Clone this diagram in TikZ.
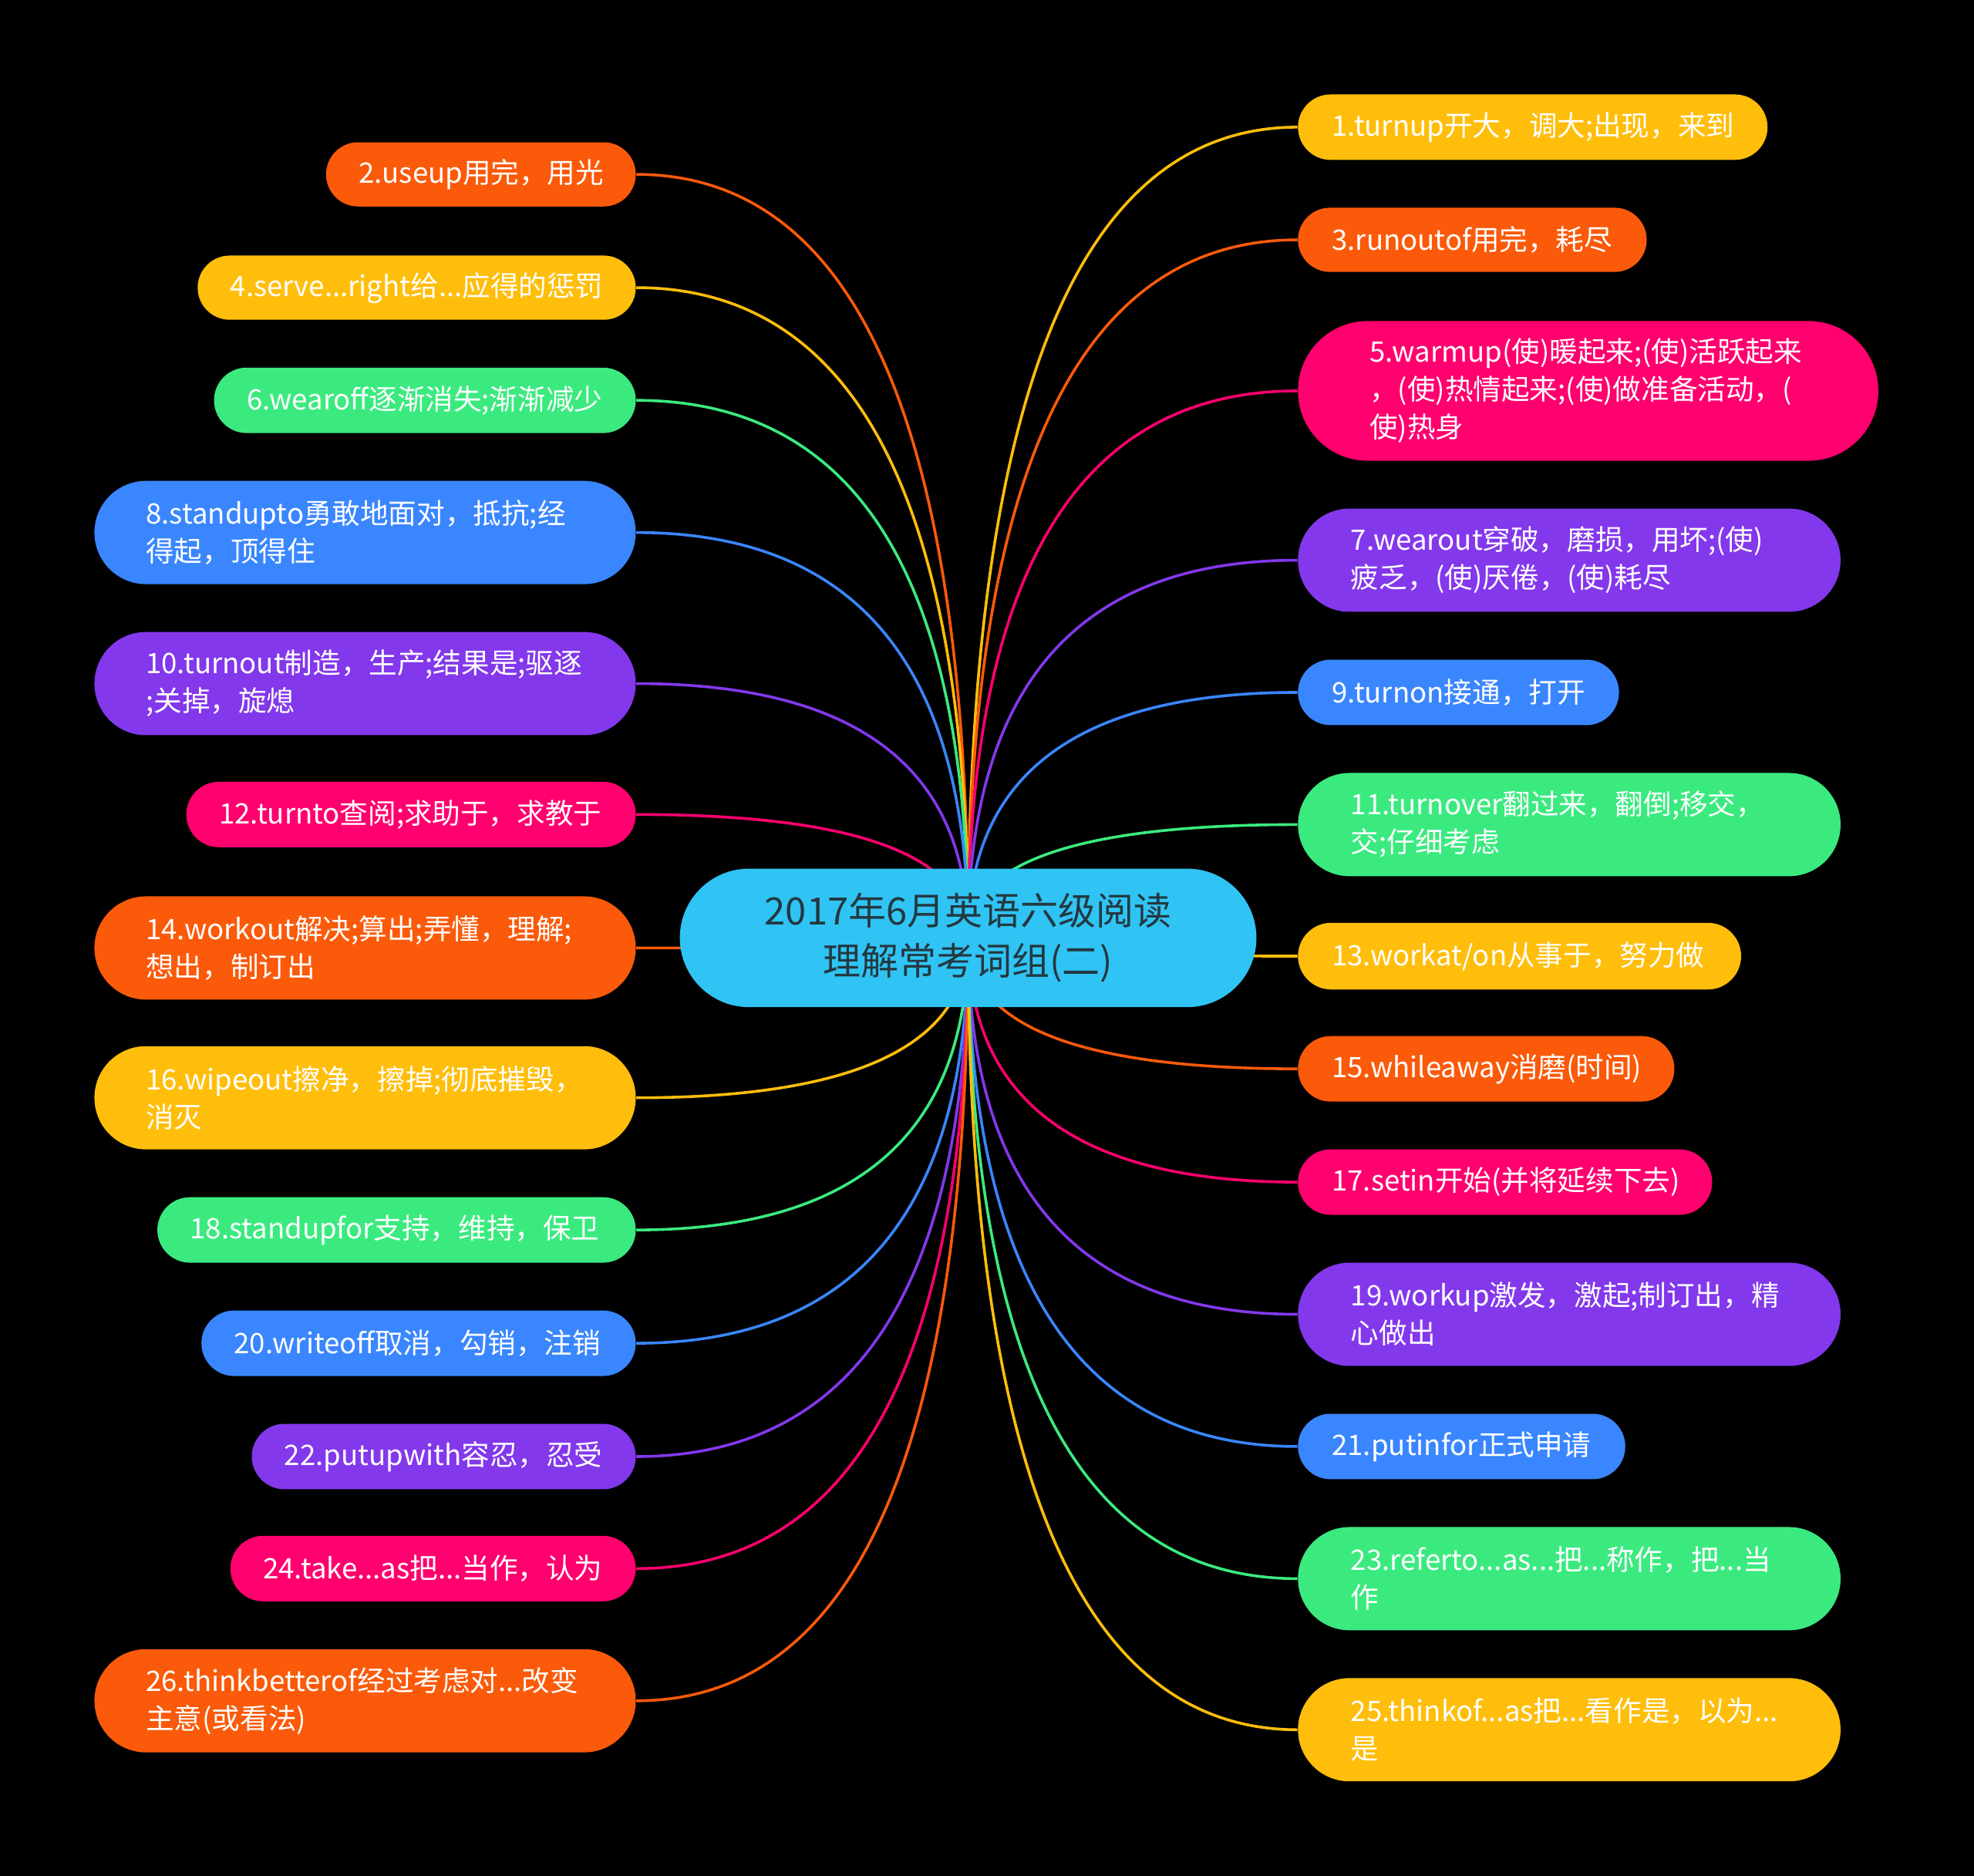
\documentclass[tikz,border=0pt]{standalone}
\usepackage{fontspec}
\setmainfont{Noto Sans CJK SC}
\usetikzlibrary{calc}
\pgfdeclarelayer{bg}
\pgfsetlayers{bg,main}
\definecolor{cOrange}{HTML}{FA5A0A}
\definecolor{cYellow}{HTML}{FFBE0B}
\definecolor{cGreen}{HTML}{3BEA7F}
\definecolor{cBlue}{HTML}{3A86FF}
\definecolor{cPurple}{HTML}{8338EC}
\definecolor{cPink}{HTML}{FF006E}
\definecolor{cCyan}{HTML}{30C4F4}
\definecolor{cDark}{HTML}{233840}
\tikzset{
  leafbox/.style={draw=none, text=white, align=left, inner ysep=0pt,
    font=\fontsize{11.2}{15}\selectfont},
  centerbox/.style={fill=cCyan, text=cDark, align=center, inner sep=0pt,
    font=\fontsize{15}{20}\selectfont},
  edge/.style={line width=1.1pt}
}
\newcommand\leaf[8]{%
  \pgfmathsetmacro\lw{(#5-#3)*0.5}%
  \pgfmathsetmacro\lh{(#6-#4)*0.5}%
  \pgfmathsetmacro\lr{(#6-#4)*0.25-0.01}%
  \pgfmathsetmacro\lp{#7*0.5}%
  \pgfmathsetmacro\ltw{\lw-2*\lp}%
  \node[leafbox, fill=#2, minimum width=\lw pt, minimum height=\lh pt,
    rounded corners=\lr pt, inner xsep=\lp pt, text width=\ltw pt]
    (#1) at ({(#3+#5)/2},{(#4+#6)/2}) {#8};%
}
% quadratic curve from the centre node to a leaf, written as a cubic
\newcommand\ledge[2]{\draw[edge, #2] (c.center) .. controls ($(c.center)!2/3!(c.center |- #1.east)$) and ($(#1.east)!2/3!(c.center |- #1.east)$) .. (#1.east);}
\newcommand\redge[2]{\draw[edge, #2] (c.center) .. controls ($(c.center)!2/3!(c.center |- #1.west)$) and ($(#1.west)!2/3!(c.center |- #1.west)$) .. (#1.west);}
\begin{document}
\begin{tikzpicture}[x=0.5pt, y=-0.5pt]
\begin{pgfonlayer}{bg}
\fill[black] (0,0) rectangle (1568,1490);
\end{pgfonlayer}
\useasboundingbox (0,0) rectangle (1568,1490);
\node[centerbox, minimum width=229pt, minimum height=55pt, rounded corners=27.49pt] (c) at (769,745)
  {2017年6月英语六级阅读\\理解常考词组(二)};
% left
\leaf{l2}{cOrange}{259}{113}{505}{164}{26}{2.useup用完，用光}
\leaf{l4}{cYellow}{157}{203}{505}{254}{26}{4.serve...right给...应得的惩罚}
\leaf{l6}{cGreen}{170}{292}{505}{344}{26}{6.wearoff逐渐消失;渐渐减少}
\leaf{l8}{cBlue}{75}{382}{505}{464}{41}{8.standupto勇敢地面对，抵抗;经\\得起，顶得住}
\leaf{l10}{cPurple}{75}{502}{505}{584}{41}{10.turnout制造，生产;结果是;驱逐\\;关掉，旋熄}
\leaf{l12}{cPink}{148}{621}{505}{673}{26}{12.turnto查阅;求助于，求教于}
\leaf{l14}{cOrange}{75}{712}{505}{794}{41}{14.workout解决;算出;弄懂，理解;\\想出，制订出}
\leaf{l16}{cYellow}{75}{831}{505}{913}{41}{16.wipeout擦净，擦掉;彻底摧毁，\\消灭}
\leaf{l18}{cGreen}{125}{951}{505}{1003}{26}{18.standupfor支持，维持，保卫}
\leaf{l20}{cBlue}{160}{1041}{505}{1093}{26}{20.writeoff取消，勾销，注销}
\leaf{l22}{cPurple}{200}{1131}{505}{1183}{26}{22.putupwith容忍，忍受}
\leaf{l24}{cPink}{183}{1220}{505}{1272}{26}{24.take...as把...当作，认为}
\leaf{l26}{cOrange}{75}{1310}{505}{1392}{41}{26.thinkbetterof经过考虑对...改变\\主意(或看法)}
% right
\leaf{r1}{cYellow}{1031}{75}{1404}{127}{27}{1.turnup开大，调大;出现，来到}
\leaf{r3}{cOrange}{1031}{165}{1308}{216}{27}{3.runoutof用完，耗尽}
\leaf{r5}{cPink}{1031}{255}{1492}{366}{57}{5.warmup(使)暖起来;(使)活跃起来\\，(使)热情起来;(使)做准备活动，(\\使)热身}
\leaf{r7}{cPurple}{1031}{404}{1462}{486}{42}{7.wearout穿破，磨损，用坏;(使)\\疲乏，(使)厌倦，(使)耗尽}
\leaf{r9}{cBlue}{1031}{524}{1286}{576}{27}{9.turnon接通，打开}
\leaf{r11}{cGreen}{1031}{614}{1462}{696}{42}{11.turnover翻过来，翻倒;移交，\\交;仔细考虑}
\leaf{r13}{cYellow}{1031}{733}{1383}{786}{27}{13.workat/on从事于，努力做}
\leaf{r15}{cOrange}{1031}{823}{1330}{875}{27}{15.whileaway消磨(时间)}
\leaf{r17}{cPink}{1031}{913}{1360}{965}{27}{17.setin开始(并将延续下去)}
\leaf{r19}{cPurple}{1031}{1003}{1462}{1085}{42}{19.workup激发，激起;制订出，精\\心做出}
\leaf{r21}{cBlue}{1031}{1123}{1291}{1175}{27}{21.putinfor正式申请}
\leaf{r23}{cGreen}{1031}{1213}{1462}{1295}{42}{23.referto...as...把...称作，把...当\\作}
\leaf{r25}{cYellow}{1031}{1333}{1462}{1415}{42}{25.thinkof...as把...看作是，以为...\\是}
\begin{pgfonlayer}{bg}
\ledge{l2}{cOrange}
\ledge{l4}{cYellow}
\ledge{l6}{cGreen}
\ledge{l8}{cBlue}
\ledge{l10}{cPurple}
\ledge{l12}{cPink}
\ledge{l14}{cOrange}
\ledge{l16}{cYellow}
\ledge{l18}{cGreen}
\ledge{l20}{cBlue}
\ledge{l22}{cPurple}
\ledge{l24}{cPink}
\ledge{l26}{cOrange}
\redge{r1}{cYellow}
\redge{r3}{cOrange}
\redge{r5}{cPink}
\redge{r7}{cPurple}
\redge{r9}{cBlue}
\redge{r11}{cGreen}
\redge{r13}{cYellow}
\redge{r15}{cOrange}
\redge{r17}{cPink}
\redge{r19}{cPurple}
\redge{r21}{cBlue}
\redge{r23}{cGreen}
\redge{r25}{cYellow}
\end{pgfonlayer}
\end{tikzpicture}
\end{document}
